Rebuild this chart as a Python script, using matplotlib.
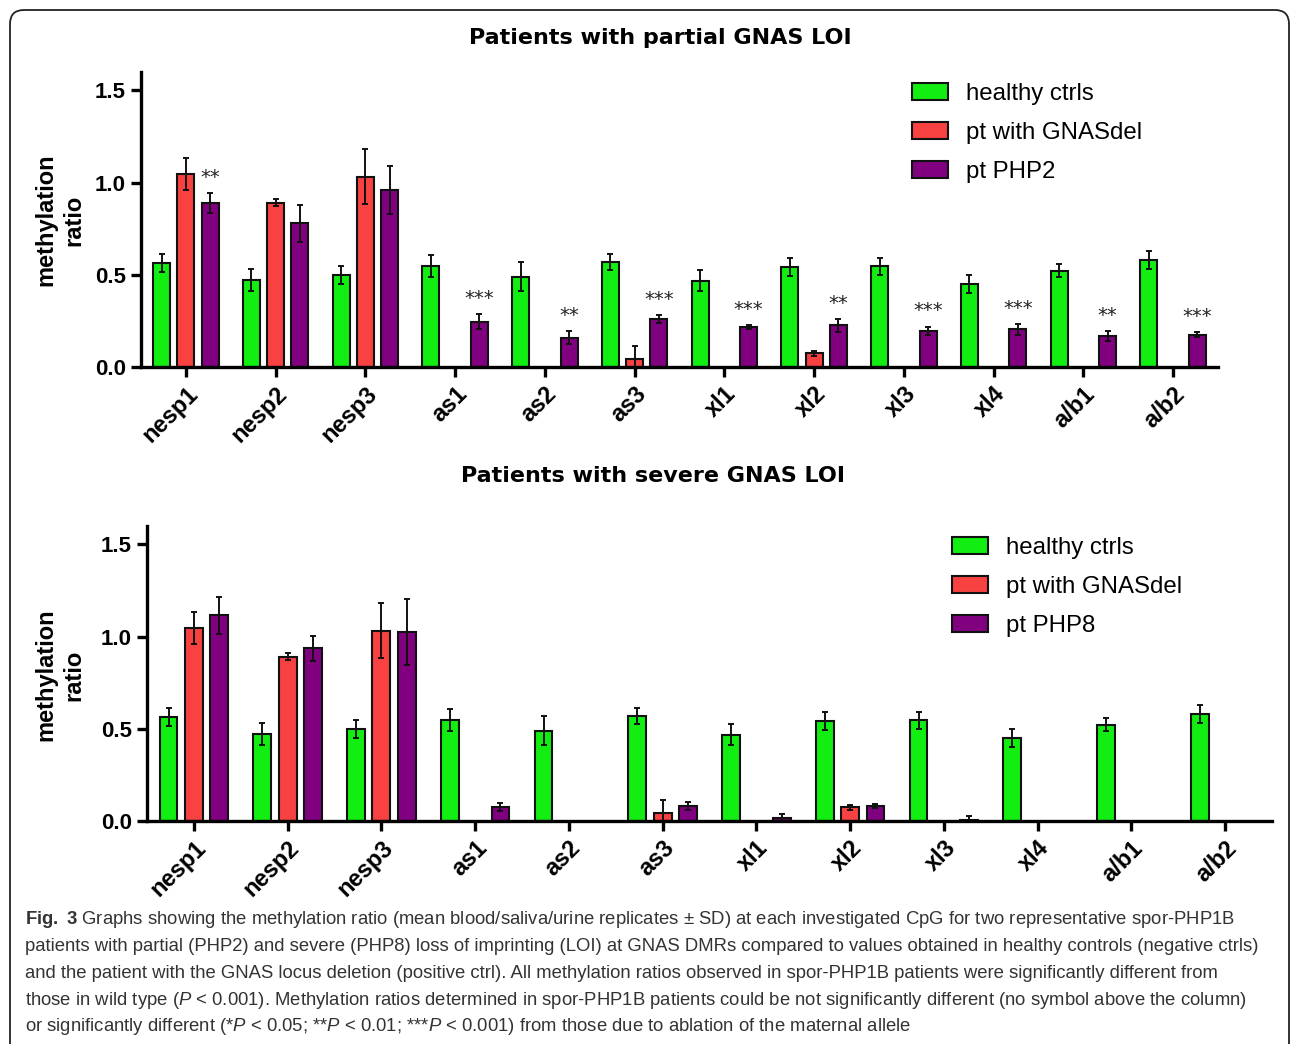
import numpy as np
import matplotlib
matplotlib.use("Agg")
import matplotlib.pyplot as plt
from matplotlib.patches import FancyBboxPatch
from matplotlib.transforms import IdentityTransform

nan = np.nan

# CpG sites on the x axis
cpgs = ['nesp1', 'nesp2', 'nesp3', 'as1', 'as2', 'as3',
        'xl1', 'xl2', 'xl3', 'xl4', 'a/b1', 'a/b2']

# healthy controls (same in both panels)
ctrl = [0.565, 0.47, 0.50, 0.55, 0.49, 0.57, 0.468, 0.542, 0.547, 0.45, 0.523, 0.58]
ctrl_sd = [0.05, 0.06, 0.05, 0.06, 0.08, 0.045, 0.057, 0.05, 0.046, 0.047, 0.036, 0.05]

# patient with GNAS deletion (same in both panels)
gnasdel = [1.046, 0.892, 1.033, nan, nan, 0.046, nan, 0.075, nan, nan, nan, nan]
gnasdel_sd = [0.085, 0.02, 0.147, nan, nan, 0.068, nan, 0.013, nan, nan, nan, nan]

# partial LOI patient
php2 = [0.89, 0.78, 0.96, 0.245, 0.16, 0.26, 0.218, 0.226, 0.196, 0.205, 0.166, 0.175]
php2_sd = [0.053, 0.10, 0.13, 0.04, 0.035, 0.022, 0.01, 0.035, 0.023, 0.03, 0.027, 0.014]
php2_sig = ['**', '', '', '***', '**', '***', '***', '**', '***', '***', '**', '***']

# severe LOI patient
php8 = [1.115, 0.937, 1.026, 0.076, nan, 0.081, 0.014, 0.081, 0.007, nan, nan, nan]
php8_sd = [0.10, 0.067, 0.18, 0.02, nan, 0.02, 0.024, 0.011, 0.018, nan, nan, nan]

caption_lines = [
    r"$\mathbf{Fig.\ 3}$ Graphs showing the methylation ratio (mean blood/saliva/urine replicates ± SD) at each investigated CpG for two representative spor-PHP1B",
    "patients with partial (PHP2) and severe (PHP8) loss of imprinting (LOI) at GNAS DMRs compared to values obtained in healthy controls (negative ctrls)",
    "and the patient with the GNAS locus deletion (positive ctrl). All methylation ratios observed in spor-PHP1B patients were significantly different from",
    r"those in wild type ($\mathit{P}$ < 0.001). Methylation ratios determined in spor-PHP1B patients could be not significantly different (no symbol above the column)",
    r"or significantly different (*$\mathit{P}$ < 0.05; **$\mathit{P}$ < 0.01; ***$\mathit{P}$ < 0.001) from those due to ablation of the maternal allele",
]

GREEN = '#12EE12'
RED = '#F84242'
PURPLE = '#800080'

plt.rcParams['font.family'] = ['Liberation Sans', 'DejaVu Sans']
plt.rcParams['mathtext.fontset'] = 'custom'
plt.rcParams['mathtext.rm'] = 'Liberation Sans'
plt.rcParams['mathtext.it'] = 'Liberation Sans:italic'
plt.rcParams['mathtext.bf'] = 'Liberation Sans:bold'

fig = plt.figure(figsize=(12.9, 10.44), dpi=100)

W, H = 1290.0, 1044.0


def px_axes(left, right, top, bottom):
    return fig.add_axes([left / W, 1 - bottom / H, (right - left) / W, (bottom - top) / H])


def draw_panel(ax, patient, patient_sd, patient_label, sig=None):
    x = np.arange(len(cpgs))
    w = 0.19
    off = 0.27
    ekw = dict(ecolor='#111111', elinewidth=1.4, capsize=2.5, capthick=1.4)
    ax.bar(x - off, ctrl, w, yerr=ctrl_sd, color=GREEN, edgecolor='#111111',
           linewidth=1.5, error_kw=ekw, label='healthy ctrls')
    ax.bar(x, gnasdel, w, yerr=gnasdel_sd, color=RED, edgecolor='#111111',
           linewidth=1.5, error_kw=ekw, label='pt with GNASdel')
    ax.bar(x + off, patient, w, yerr=patient_sd, color=PURPLE, edgecolor='#111111',
           linewidth=1.5, error_kw=ekw, label=patient_label)
    if sig is not None:
        for i, s in enumerate(sig):
            if s:
                ax.text(x[i] + off, patient[i] + patient_sd[i] + 0.055, s,
                        ha='center', va='baseline', fontsize=14,
                        family='DejaVu Sans', color='#222222')
    ax.set_xlim(-0.5, 11.5)
    ax.set_ylim(0, 1.6)
    ax.set_yticks([0.0, 0.5, 1.0, 1.5])
    ax.set_yticklabels(['0.0', '0.5', '1.0', '1.5'], fontsize=16, fontweight='bold')
    ax.set_xticks(x)
    ax.set_xticklabels(cpgs, rotation=45, ha='right', rotation_mode='anchor',
                       fontsize=17, fontweight='bold')
    for side in ['top', 'right']:
        ax.spines[side].set_visible(False)
    for side in ['left', 'bottom']:
        ax.spines[side].set_linewidth(2.4)
    ax.tick_params(axis='both', width=2.4, length=7, direction='out', pad=4)
    ax.legend(loc='upper left', bbox_to_anchor=(0.707, 0.995), frameon=False,
              fontsize=17.3, handlelength=1.5, handleheight=0.72,
              handletextpad=0.75, labelspacing=0.7, borderaxespad=0)


ax1 = px_axes(141, 1218, 72, 367)
draw_panel(ax1, php2, php2_sd, 'pt PHP2', php2_sig)

ax2 = px_axes(147, 1272, 526, 821)
draw_panel(ax2, php8, php8_sd, 'pt PHP8')

fig.text(660 / W, 1 - 38 / H, 'Patients with partial GNAS LOI', ha='center',
         va='center', fontsize=16, fontweight='bold', family='DejaVu Sans')
fig.text(653 / W, 1 - 476 / H, 'Patients with severe GNAS LOI', ha='center',
         va='center', fontsize=16, fontweight='bold', family='DejaVu Sans')

for yc in [220, 675]:
    fig.text(60 / W, 1 - yc / H, 'methylation\nratio', rotation=90, ha='center',
             va='center', multialignment='center', fontsize=17,
             fontweight='bold', linespacing=1.25)

for i, line in enumerate(caption_lines):
    fig.text(25 / W, 1 - (920 + i * 26.7) / H, line, ha='left', va='center',
             fontsize=13.3, color='#333333')

# rounded frame around the figure
frame = FancyBboxPatch((10, -30), 1279, 1044 - 10 + 30,
                       boxstyle='round,pad=0,rounding_size=14',
                       transform=IdentityTransform(), facecolor='none',
                       edgecolor='#222222', linewidth=1.3, clip_on=False)
fig.patches.append(frame)

fig.savefig('out.png', dpi=100)
